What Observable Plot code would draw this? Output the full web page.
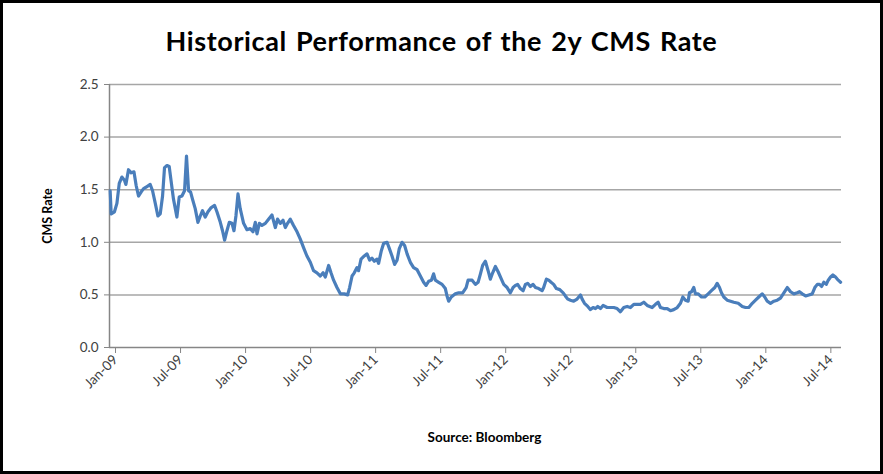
<!DOCTYPE html>
<html>
<head>
<meta charset="utf-8">
<script src="https://cdn.jsdelivr.net/npm/d3@7"></script>
<script src="https://cdn.jsdelivr.net/npm/@observablehq/plot@0.6"></script>
<style>
  html, body { margin: 0; padding: 0; background: #fff; }
  #frame {
    position: relative; box-sizing: border-box; width: 883px; height: 474px;
    border: 3px solid #000; background: #fff; overflow: hidden;
    font-family: Lato, "Open Sans", sans-serif;
  }
  #title {
    height: 62px; box-sizing: border-box; padding-top: 24px;
    text-align: center; font-size: 27px; font-weight: bold; color: #000;
    line-height: 28px; letter-spacing: 0.6px; word-spacing: 2px;
  }
  #chart svg { display: block; }
  #caption {
    text-align: center; font-size: 13.5px; font-weight: bold; color: #000;
    padding-left: 86px; padding-top: 24px; line-height: 16px;
  }
</style>
</head>
<body>
<div id="frame">
  <div id="title">Historical Performance of the 2y CMS Rate</div>
  <div id="chart"></div>
  <div id="caption">Source: Bloomberg</div>
</div>
<script>
// Time in decimal years and the 2y CMS rate (%)
const years = [
  2009.005, 2009.013, 2009.038, 2009.057, 2009.075, 2009.095, 2009.115, 2009.126, 2009.146, 2009.167,
  2009.188, 2009.205, 2009.223, 2009.244, 2009.262, 2009.288, 2009.313, 2009.331, 2009.352, 2009.372,
  2009.390, 2009.408, 2009.423, 2009.442, 2009.459, 2009.475, 2009.492, 2009.518, 2009.536, 2009.557,
  2009.577, 2009.592, 2009.608, 2009.623, 2009.638, 2009.659, 2009.680, 2009.698, 2009.715, 2009.736,
  2009.757, 2009.782, 2009.808, 2009.826, 2009.852, 2009.869, 2009.885, 2009.903, 2009.921, 2009.942,
  2009.957, 2009.972, 2009.988, 2010.005, 2010.031, 2010.057, 2010.082, 2010.103, 2010.121, 2010.134,
  2010.152, 2010.172, 2010.198, 2010.223, 2010.249, 2010.275, 2010.292, 2010.313, 2010.334, 2010.352,
  2010.369, 2010.390, 2010.415, 2010.442, 2010.467, 2010.492, 2010.518, 2010.544, 2010.569, 2010.595,
  2010.621, 2010.642, 2010.659, 2010.685, 2010.703, 2010.723, 2010.749, 2010.775, 2010.805, 2010.831,
  2010.846, 2010.865, 2010.882, 2010.903, 2010.915, 2010.934, 2010.959, 2010.980, 2011.000, 2011.018,
  2011.036, 2011.057, 2011.069, 2011.090, 2011.108, 2011.134, 2011.152, 2011.172, 2011.192, 2011.211,
  2011.228, 2011.249, 2011.269, 2011.288, 2011.313, 2011.338, 2011.365, 2011.390, 2011.415, 2011.434,
  2011.454, 2011.475, 2011.492, 2011.505, 2011.531, 2011.557, 2011.582, 2011.595, 2011.608, 2011.628,
  2011.659, 2011.685, 2011.715, 2011.742, 2011.757, 2011.788, 2011.813, 2011.834, 2011.852, 2011.869,
  2011.890, 2011.911, 2011.928, 2011.946, 2011.967, 2011.988, 2012.013, 2012.031, 2012.057, 2012.082,
  2012.103, 2012.121, 2012.138, 2012.159, 2012.180, 2012.198, 2012.215, 2012.236, 2012.257, 2012.275,
  2012.300, 2012.326, 2012.338, 2012.359, 2012.377, 2012.395, 2012.415, 2012.436, 2012.462, 2012.488,
  2012.505, 2012.523, 2012.544, 2012.569, 2012.595, 2012.621, 2012.634, 2012.652, 2012.677, 2012.698,
  2012.718, 2012.736, 2012.754, 2012.775, 2012.795, 2012.826, 2012.852, 2012.877, 2012.903, 2012.928,
  2012.954, 2012.980, 2013.005, 2013.031, 2013.057, 2013.082, 2013.108, 2013.134, 2013.172, 2013.198,
  2013.218, 2013.236, 2013.262, 2013.288, 2013.313, 2013.338, 2013.365, 2013.390, 2013.408, 2013.428,
  2013.449, 2013.459, 2013.475, 2013.492, 2013.505, 2013.526, 2013.552, 2013.577, 2013.603, 2013.628,
  2013.654, 2013.672, 2013.690, 2013.705, 2013.723, 2013.749, 2013.775, 2013.800, 2013.834, 2013.865,
  2013.890, 2013.915, 2013.942, 2013.967, 2013.992, 2014.018, 2014.038, 2014.057, 2014.082, 2014.108,
  2014.134, 2014.159, 2014.185, 2014.211, 2014.236, 2014.262, 2014.288, 2014.305, 2014.326, 2014.352,
  2014.377, 2014.403, 2014.423, 2014.442, 2014.459, 2014.475, 2014.492, 2014.511, 2014.526, 2014.544,
  2014.562, 2014.582, 2014.603, 2014.621
];
const rates = [
  1.49, 1.27, 1.29, 1.37, 1.56, 1.62, 1.59, 1.55, 1.69, 1.66,
  1.67, 1.54, 1.44, 1.48, 1.51, 1.53, 1.55, 1.49, 1.37, 1.25,
  1.27, 1.44, 1.71, 1.73, 1.72, 1.57, 1.41, 1.24, 1.43, 1.44,
  1.49, 1.82, 1.49, 1.48, 1.41, 1.32, 1.19, 1.25, 1.30, 1.24,
  1.29, 1.33, 1.35, 1.29, 1.19, 1.11, 1.02, 1.11, 1.19, 1.18,
  1.11, 1.25, 1.46, 1.32, 1.18, 1.12, 1.13, 1.10, 1.19, 1.08,
  1.18, 1.16, 1.18, 1.22, 1.26, 1.14, 1.22, 1.18, 1.21, 1.14,
  1.18, 1.22, 1.16, 1.10, 1.03, 0.95, 0.87, 0.81, 0.73, 0.71,
  0.68, 0.71, 0.67, 0.78, 0.71, 0.64, 0.57, 0.51, 0.51, 0.50,
  0.57, 0.68, 0.71, 0.76, 0.73, 0.84, 0.87, 0.89, 0.83, 0.85,
  0.82, 0.84, 0.80, 0.92, 0.99, 1.00, 0.94, 0.87, 0.79, 0.83,
  0.94, 1.00, 0.97, 0.89, 0.81, 0.76, 0.74, 0.68, 0.62, 0.59,
  0.63, 0.64, 0.70, 0.64, 0.62, 0.60, 0.56, 0.49, 0.44, 0.48,
  0.51, 0.52, 0.52, 0.57, 0.64, 0.64, 0.60, 0.62, 0.70, 0.78,
  0.82, 0.73, 0.65, 0.71, 0.77, 0.72, 0.65, 0.60, 0.57, 0.52,
  0.57, 0.59, 0.60, 0.56, 0.54, 0.60, 0.61, 0.58, 0.60, 0.57,
  0.56, 0.54, 0.57, 0.65, 0.64, 0.62, 0.60, 0.56, 0.55, 0.52,
  0.49, 0.46, 0.45, 0.44, 0.46, 0.50, 0.46, 0.42, 0.39, 0.36,
  0.38, 0.37, 0.39, 0.37, 0.40, 0.38, 0.38, 0.38, 0.37, 0.34,
  0.38, 0.39, 0.38, 0.41, 0.41, 0.41, 0.43, 0.40, 0.38, 0.41,
  0.43, 0.38, 0.37, 0.37, 0.35, 0.36, 0.38, 0.42, 0.48, 0.45,
  0.44, 0.52, 0.53, 0.57, 0.51, 0.51, 0.48, 0.48, 0.51, 0.54,
  0.57, 0.61, 0.57, 0.52, 0.48, 0.45, 0.44, 0.43, 0.42, 0.39,
  0.38, 0.38, 0.42, 0.45, 0.48, 0.51, 0.48, 0.44, 0.42, 0.44,
  0.45, 0.47, 0.52, 0.57, 0.53, 0.51, 0.52, 0.53, 0.51, 0.49,
  0.50, 0.51, 0.57, 0.60, 0.60, 0.58, 0.62, 0.60, 0.64, 0.67,
  0.69, 0.67, 0.64, 0.62
];
const xTickValues = [2009, 2009.5, 2010, 2010.5, 2011, 2011.5, 2012, 2012.5, 2013, 2013.5, 2014, 2014.5];
const xTickLabels = ["Jan-09", "Jul-09", "Jan-10", "Jul-10", "Jan-11", "Jul-11", "Jan-12", "Jul-12", "Jan-13", "Jul-13", "Jan-14", "Jul-14"];
const yTickValues = [0, 0.5, 1.0, 1.5, 2.0, 2.5];
const yLabel = "CMS Rate";
const xEnd = 2014.628;

const data = years.map((t, i) => ({t, rate: rates[i]}));
const axisColor = "#868686";
const gridColor = "#a6a6a6";
const textColor = "#404040";

const chart = Plot.plot({
  width: 877,
  height: 340,
  marginTop: 19,
  marginBottom: 58,
  marginLeft: 106,
  marginRight: 39,
  style: {fontFamily: "Lato, 'Open Sans', sans-serif", fontSize: "13px", color: textColor, background: "#fff"},
  x: {type: "linear", domain: [xTickValues[0], xEnd]},
  y: {domain: [0, 2.5]},
  marks: [
    Plot.gridY(yTickValues.filter(d => d > 0), {stroke: gridColor, strokeOpacity: 1, strokeWidth: 1.5}),
    Plot.ruleY([0], {stroke: axisColor, strokeWidth: 1.5}),
    Plot.ruleX([xTickValues[0]], {stroke: axisColor, strokeWidth: 1.5}),
    Plot.axisY({ticks: yTickValues, tickFormat: d3.format(".1f"), tickSize: 5, tickPadding: 6,
      stroke: axisColor, label: null, fontSize: 13.5}),
    Plot.axisX({ticks: xTickValues, tickFormat: (d, i) => xTickLabels[i], tickSize: 6, tickPadding: 4,
      tickRotate: -45, stroke: axisColor, label: null, fontSize: 13.5, dx: 6}),
    Plot.text([yLabel], {frameAnchor: "left", textAnchor: "middle", dx: -62, rotate: -90,
      fontWeight: "bold", fontSize: 12.5, fill: "#000"}),
    Plot.line(data, {x: "t", y: "rate", stroke: "#4a7ebb", strokeWidth: 3.2, strokeLinejoin: "round", curve: "linear"})
  ]
});
document.getElementById("chart").appendChild(chart);
</script>
</body>
</html>
